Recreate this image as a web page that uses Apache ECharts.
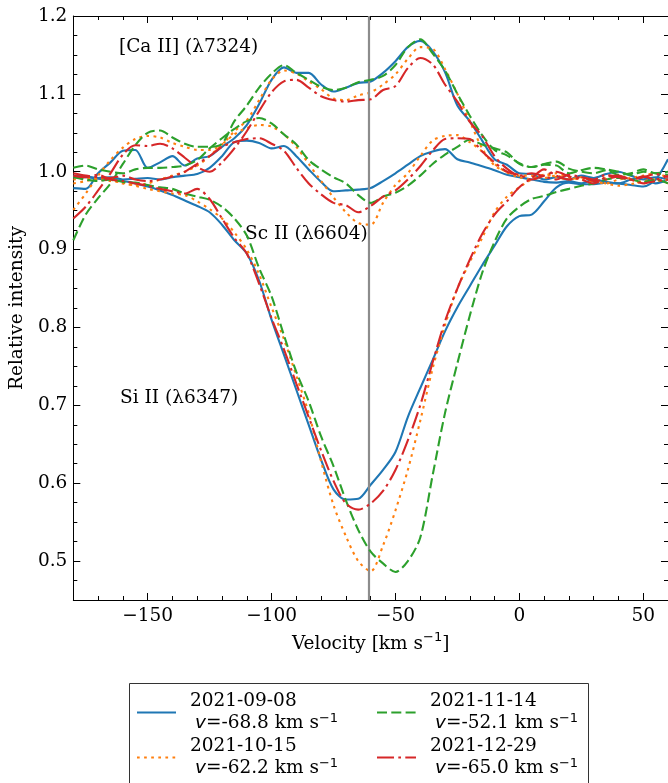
<!DOCTYPE html>
<html>
<head>
<meta charset="utf-8">
<script src="https://cdn.jsdelivr.net/npm/echarts@6/dist/echarts.min.js"></script>
<style>
  html, body { margin: 0; padding: 0; background: #fff; }
  #chart { width: 668px; height: 783px; }
</style>
</head>
<body>
<div id="chart"></div>
<script>
// ---------------- data ----------------
const velocity = [-180,-175,-170,-165,-160,-155,-150,-145,-140,-135,-130,-125,-120,-115,-110,-105,-100,-95,-90,-85,-80,-75,-70,-65,-60,-55,-50,-45,-40,-35,-30,-25,-20,-15,-10,-5,0,5,10,15,20,25,30,35,40,45,50,55,60];

const dates = ['2021-09-08', '2021-10-15', '2021-11-14', '2021-12-29'];
const lineVelocities = ['-68.8', '-62.2', '-52.1', '-65.0'];
const refVelocity = -60.7;

// [Ca II] (7324)
const caII_0908 = [0.979,0.978,0.998,1.012,1.027,1.028,1.005,1.012,1.020,1.008,1.017,1.020,1.032,1.043,1.060,1.087,1.118,1.134,1.127,1.127,1.112,1.103,1.108,1.114,1.116,1.127,1.142,1.160,1.168,1.155,1.128,1.085,1.065,1.040,1.016,1.009,0.998,0.997,0.990,0.993,0.990,0.995,0.992,0.997,1.000,0.995,0.990,0.993,0.990];
const caII_1015 = [0.951,0.972,0.995,1.015,1.031,1.042,1.046,1.044,1.037,1.032,1.028,1.028,1.035,1.052,1.066,1.092,1.118,1.130,1.126,1.116,1.106,1.094,1.092,1.098,1.102,1.112,1.125,1.145,1.160,1.158,1.132,1.100,1.065,1.030,1.008,1.000,0.995,0.995,0.992,0.995,0.990,0.993,0.988,0.985,0.990,0.992,0.995,0.998,0.992];
const caII_1114 = [0.912,0.945,0.966,0.985,1.010,1.034,1.050,1.053,1.044,1.036,1.032,1.032,1.036,1.065,1.085,1.108,1.126,1.137,1.127,1.118,1.109,1.105,1.108,1.115,1.118,1.123,1.137,1.160,1.170,1.152,1.130,1.100,1.072,1.047,1.028,1.021,1.011,1.006,1.009,1.008,0.998,1.002,1.005,1.003,1.000,0.996,1.000,0.998,0.996];
const caII_1229 = [0.940,0.955,0.976,0.998,1.022,1.034,1.033,1.036,1.030,1.018,1.006,1.000,1.012,1.030,1.052,1.078,1.102,1.116,1.118,1.108,1.097,1.092,1.090,1.092,1.093,1.105,1.110,1.133,1.146,1.138,1.112,1.090,1.064,1.046,1.020,1.004,0.995,0.998,0.994,0.990,0.996,0.993,0.990,0.996,0.993,0.990,0.994,0.990,0.995];

// Sc II (6604)
const scII_0908 = [0.995,0.994,0.992,0.993,0.990,0.991,0.992,0.990,0.993,0.995,0.997,1.005,1.020,1.038,1.040,1.037,1.030,1.033,1.020,1.003,0.987,0.975,0.976,0.977,0.979,0.988,0.998,1.009,1.020,1.026,1.029,1.016,1.012,1.007,1.002,0.996,0.993,0.990,0.987,0.986,0.988,0.985,0.990,0.987,0.985,0.990,0.993,0.985,0.990];
const scII_1015 = [0.985,0.988,0.992,0.990,0.985,0.983,0.985,0.990,0.995,1.000,1.008,1.020,1.035,1.048,1.056,1.060,1.058,1.048,1.032,1.010,0.988,0.967,0.948,0.934,0.932,0.960,0.983,0.998,1.020,1.040,1.046,1.047,1.038,1.026,1.010,0.999,0.993,0.990,0.995,0.998,0.993,0.990,0.988,0.992,0.995,0.990,0.985,0.988,0.990];
const scII_1114 = [1.005,1.008,1.003,1.000,0.998,1.003,1.005,1.005,1.006,1.008,1.015,1.030,1.043,1.055,1.065,1.069,1.062,1.048,1.035,1.015,1.003,0.993,0.985,0.970,0.960,0.968,0.973,0.982,0.995,1.010,1.022,1.032,1.041,1.035,1.030,1.025,1.010,1.006,1.010,1.013,1.004,1.000,0.998,1.002,0.996,0.998,1.003,0.998,1.000];
const scII_1229 = [0.998,0.995,0.993,0.992,0.995,0.990,0.988,0.990,0.994,1.000,1.010,1.020,1.032,1.038,1.042,1.043,1.036,1.027,1.005,0.985,0.971,0.960,0.957,0.948,0.956,0.968,0.976,0.990,1.007,1.027,1.042,1.043,1.042,1.026,1.012,1.000,0.996,0.990,0.995,1.000,0.994,0.990,0.985,0.993,0.995,0.990,0.993,0.997,0.993];

// Si II (6347)
const siII_0908 = [0.993,0.993,0.991,0.990,0.988,0.985,0.981,0.976,0.970,0.963,0.956,0.948,0.932,0.912,0.895,0.860,0.810,0.765,0.720,0.675,0.630,0.592,0.579,0.580,0.598,0.617,0.640,0.685,0.722,0.758,0.795,0.826,0.853,0.880,0.905,0.930,0.943,0.945,0.962,0.980,0.986,0.984,0.984,0.986,0.985,0.983,0.981,0.990,1.016];
const siII_1015 = [0.990,0.992,0.990,0.988,0.986,0.982,0.978,0.975,0.972,0.970,0.962,0.952,0.940,0.922,0.900,0.868,0.826,0.785,0.738,0.690,0.628,0.572,0.532,0.500,0.487,0.520,0.565,0.617,0.680,0.747,0.803,0.850,0.884,0.915,0.948,0.968,0.980,0.990,0.996,0.993,0.990,0.992,0.988,0.985,0.982,0.984,0.988,0.990,0.985];
const siII_1114 = [0.993,0.990,0.988,0.990,0.987,0.986,0.983,0.980,0.978,0.972,0.968,0.964,0.955,0.940,0.918,0.876,0.840,0.790,0.743,0.705,0.660,0.622,0.578,0.540,0.512,0.497,0.486,0.500,0.530,0.610,0.690,0.754,0.815,0.870,0.910,0.940,0.955,0.965,0.969,0.974,0.978,0.982,0.985,0.990,0.992,0.990,0.987,0.990,0.985];
const siII_1229 = [0.995,0.993,0.996,0.990,0.988,0.985,0.982,0.978,0.975,0.972,0.978,0.965,0.940,0.915,0.895,0.856,0.812,0.772,0.728,0.685,0.642,0.603,0.574,0.566,0.574,0.590,0.617,0.655,0.700,0.755,0.808,0.850,0.887,0.920,0.945,0.962,0.980,0.992,1.003,0.995,0.990,0.993,0.988,0.990,0.994,0.990,0.985,0.988,0.990];

// tick values
const xMajorTicks = [-150, -100, -50, 0, 50];
const xMinorTicks = [-170,-160,-140,-130,-120,-110,-90,-80,-70,-60,-40,-30,-20,-10,10,20,30,40];
const yMajorTicks = [0.5, 0.6, 0.7, 0.8, 0.9, 1.0, 1.1, 1.2];
const yMinorTicks = [0.475,0.525,0.55,0.575,0.625,0.65,0.675,0.725,0.75,0.775,0.825,0.85,0.875,0.925,0.95,0.975,1.025,1.05,1.075,1.125,1.15,1.175];

// ---------------- styling ----------------
const colors = ['#1f77b4', '#ff7f0e', '#2ca02c', '#d62728'];
const dashes = ['solid', [2.7, 4.4], [10, 4.3], [17, 4.3, 2.7, 4.3]];
const serif = 'DejaVu Serif';
const FS = 18.5;

const profiles = [
  [caII_0908, scII_0908, siII_0908],
  [caII_1015, scII_1015, siII_1015],
  [caII_1114, scII_1114, siII_1114],
  [caII_1229, scII_1229, siII_1229]
];

const series = [];
profiles.forEach((group, k) => {
  group.forEach((arr) => {
    series.push({
      name: dates[k],
      type: 'line',
      xAxisIndex: 0,
      yAxisIndex: 0,
      data: velocity.map((v, i) => [v, arr[i]]),
      symbol: 'none',
      showSymbol: false,
      smooth: 0.3,
      lineStyle: { color: colors[k], width: 2.1, type: dashes[k], cap: 'butt' },
      itemStyle: { color: colors[k] },
      z: 3 + k,
      animation: false,
      silent: true
    });
  });
});
// vertical reference line
series.push({
  name: 'ref',
  type: 'line',
  data: [],
  xAxisIndex: 0, yAxisIndex: 0,
  z: 2,
  markLine: {
    silent: true,
    symbol: ['none', 'none'],
    label: { show: false },
    lineStyle: { color: '#8c8c8c', width: 2.2, type: 'solid' },
    data: [{ xAxis: refVelocity }],
    animation: false
  }
});

function xAxisDef(pos, ticks, len, labels) {
  return {
    type: 'value', min: -180, max: 60, position: pos,
    axisLine: { show: labels !== null, onZero: false, lineStyle: { color: '#000', width: 1 } },
    axisTick: { show: true, inside: true, length: len, customValues: ticks, lineStyle: { color: '#000', width: 1 } },
    axisLabel: labels ? {
      show: true, customValues: xMajorTicks, margin: 7,
      fontFamily: serif, fontSize: FS, color: '#000',
      formatter: v => String(v).replace('-', '\u2212')
    } : { show: false },
    splitLine: { show: false }
  };
}
function yAxisDef(pos, ticks, len, labels) {
  return {
    type: 'value', min: 0.45, max: 1.2, position: pos,
    axisLine: { show: labels !== null, onZero: false, lineStyle: { color: '#000', width: 1 } },
    axisTick: { show: true, inside: true, length: len, customValues: ticks, lineStyle: { color: '#000', width: 1 } },
    axisLabel: labels ? {
      show: true, customValues: yMajorTicks, margin: 6,
      fontFamily: serif, fontSize: FS, color: '#000',
      formatter: v => v.toFixed(1)
    } : { show: false },
    splitLine: { show: false }
  };
}

const xBottom = xAxisDef('bottom', xMajorTicks, 7, true);
xBottom.name = '{a|Velocity [km s}{s|\u22121}{a|]}';
xBottom.nameLocation = 'middle';
xBottom.nameGap = 26;
xBottom.nameTextStyle = {
  rich: {
    a: { fontFamily: serif, fontSize: FS, color: '#000', lineHeight: 26 },
    s: { fontFamily: 'DejaVu Sans', fontSize: 13, color: '#000', lineHeight: 14, verticalAlign: 'top' }
  }
};
const xTop = xAxisDef('top', xMajorTicks, 7, false);
const xMinorA = xAxisDef('top', xMinorTicks, 4, null);
const xMinorB = xAxisDef('bottom', xMinorTicks, 4, null);

const yLeft = yAxisDef('left', yMajorTicks, 7, true);
yLeft.name = 'Relative intensity';
yLeft.nameLocation = 'middle';
yLeft.nameGap = 34;
yLeft.nameTextStyle = { fontFamily: serif, fontSize: FS, color: '#000' };
const yRight = yAxisDef('right', yMajorTicks, 7, false);
const yMinorA = yAxisDef('right', yMinorTicks, 4, null);
const yMinorB = yAxisDef('left', yMinorTicks, 4, null);

const velByDate = {};
dates.forEach((d, i) => { velByDate[d] = lineVelocities[i]; });
const LH = 22;
const legendRich = {
  sa: { width: 9, fontSize: FS, lineHeight: LH },
  sb: { width: 14, fontSize: FS, lineHeight: LH },
  d: { fontFamily: serif, fontSize: FS, lineHeight: LH, color: '#000' },
  v: { fontFamily: 'DejaVu Sans', fontStyle: 'italic', fontSize: FS, lineHeight: LH, color: '#000' },
  t: { fontFamily: serif, fontSize: FS, lineHeight: LH, color: '#000' },
  s: { fontFamily: 'DejaVu Sans', fontSize: 13, lineHeight: 13, color: '#000', verticalAlign: 'top' }
};
function legendDef(names, left) {
  return {
    data: names, orient: 'vertical', left: left, top: 692,
    itemWidth: 39, itemHeight: 14, itemGap: 4, padding: 0,
    selectedMode: false,
    itemStyle: { opacity: 0 },
    formatter: name => `{sa| }{d|${name}}\n{sb| }{v|v}{t|=${velByDate[name]} km s}{s|\u22121}`,
    textStyle: { rich: legendRich }
  };
}

const chart = echarts.init(document.getElementById('chart'), null, { renderer: 'canvas' });
chart.setOption({
  animation: false,
  backgroundColor: '#fff',
  grid: { left: 69, top: 16, width: 599, height: 584, containLabel: false },
  xAxis: [xBottom, xTop, xMinorA, xMinorB],
  yAxis: [yLeft, yRight, yMinorA, yMinorB],
  legend: [legendDef([dates[0], dates[1]], 136), legendDef([dates[2], dates[3]], 376)],
  graphic: [
    { type: 'text', x: 119, y: 47, style: { text: '[Ca II] (\u03BB7324)', font: FS + 'px "DejaVu Serif"', fill: '#000', align: 'left', verticalAlign: 'middle' } },
    { type: 'text', x: 245, y: 234, style: { text: 'Sc II (\u03BB6604)', font: FS + 'px "DejaVu Serif"', fill: '#000', align: 'left', verticalAlign: 'middle' } },
    { type: 'text', x: 120, y: 398, style: { text: 'Si II (\u03BB6347)', font: FS + 'px "DejaVu Serif"', fill: '#000', align: 'left', verticalAlign: 'middle' } },
    { type: 'rect', shape: { x: 129.5, y: 683.5, width: 459, height: 130 }, style: { fill: 'none', stroke: '#333', lineWidth: 1 } }
  ],
  series: series
});
</script>
</body>
</html>
